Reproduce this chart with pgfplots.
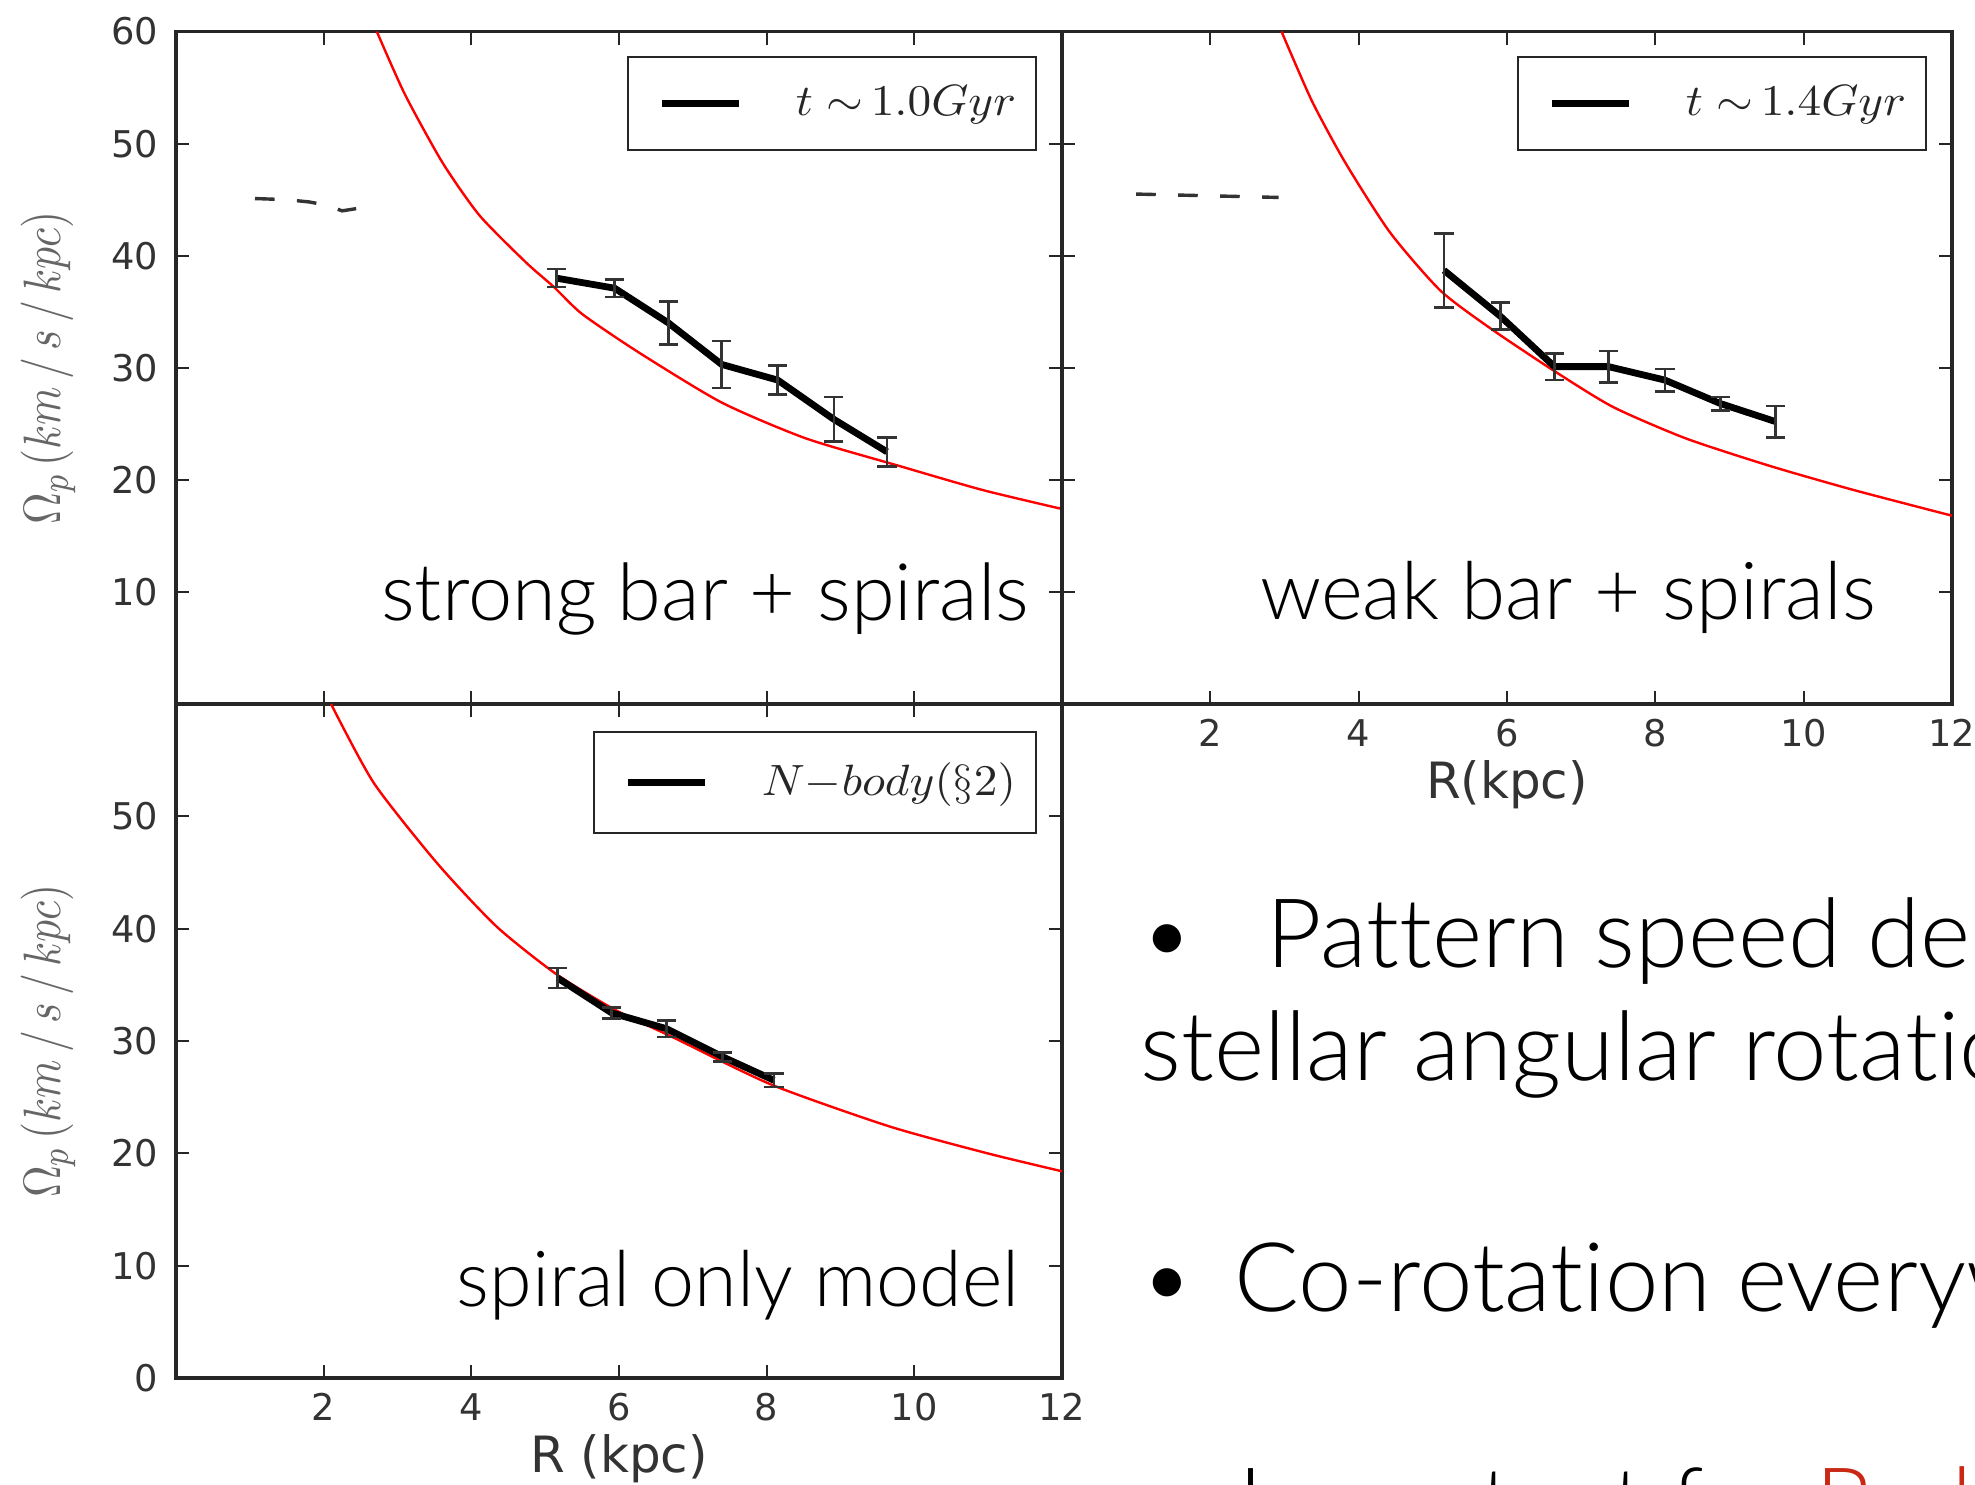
\documentclass[border=0pt]{standalone}
\usepackage{pgfplots}
\pgfplotsset{compat=1.18}
\usepackage{pgfplotstable}
\usepackage{graphicx}
\usepackage{fontspec}
\newfontfamily\tickfont{DejaVu Sans}
\IfFontExistsTF{Lato Light}{\newfontfamily\slidefont{Lato Light}[Ligatures=NoCommon]}{\newfontfamily\slidefont{Lato}[Ligatures=NoCommon]}
\definecolor{slidered}{RGB}{200,40,20}

% measured pattern speeds (x = R kpc, y = Omega_p, e = error)
\pgfplotstableread{
x y e
5.15 38.0 0.8
5.94 37.1 0.8
6.67 34.0 1.9
7.39 30.3 2.1
8.15 28.9 1.3
8.91 25.4 2.0
9.63 22.5 1.3
}\tldata
\pgfplotstableread{
x y e
5.15 38.7 3.3
5.91 34.6 1.2
6.64 30.1 1.2
7.37 30.1 1.4
8.13 28.9 1.0
8.88 26.8 0.6
9.62 25.2 1.4
}\trdata
\pgfplotstableread{
x y e
5.17 35.6 0.9
5.90 32.5 0.5
6.64 31.1 0.75
7.40 28.6 0.4
8.10 26.5 0.6
}\bldata
% angular rotation curves (red)
\pgfplotstableread{
x y
2.72 60.0
3.10 54.4
3.61 48.3
4.11 43.6
4.74 39.4
5.12 37.2
5.50 34.8
6.26 31.4
7.39 26.9
8.53 23.7
9.79 21.25
10.92 19.1
12.0 17.4
}\tlcurve
\pgfplotstableread{
x y
2.96 60.0
3.37 53.8
3.82 48.3
4.42 42.1
5.10 36.9
5.78 33.5
6.64 29.7
7.43 26.5
8.41 23.7
9.54 21.25
10.67 19.1
12.0 16.8
}\trcurve
\pgfplotstableread{
x y
2.10 60.0
2.68 52.96
3.54 45.8
4.34 40.2
5.14 36.0
5.94 32.8
6.74 30.3
8.07 26.1
9.66 22.4
10.99 20.0
12.0 18.4
}\blcurve

\pgfplotsset{
  panel/.style={
    scale only axis,
    xmin=0, xmax=12, ymin=0, ymax=60,
    axis line style={line width=0.8pt, black!85},
    tick style={line width=0.5pt, black!85},
    major tick length=3.3pt,
    tick align=inside,
    xtick pos=both, ytick pos=both,
    /pgf/number format/assume math mode=true,
    tick label style={font=\tickfont\fontsize{9.2}{10}\selectfont, text=black!80},
    xticklabel style={inner sep=0pt, anchor=north, yshift=-3.6pt},
    yticklabel style={inner sep=0pt, anchor=east, xshift=-4.3pt},
    xtick={2,4,...,12},
    xlabel style={font=\tickfont\fontsize{12.5}{14}\selectfont, text=black!80,
      at={([yshift=-20.3pt]axis description cs:0.5,0)}, anchor=center},
    ylabel style={text=black!60, at={([xshift=-32pt]axis description cs:0,0.5)}, anchor=center},
    legend style={at={(1,1)}, anchor=north east, xshift=-6.2pt, yshift=-6pt,
      draw=black!85, line width=0.6pt, fill=white,
      inner xsep=0pt, inner ysep=7.2pt, column sep=0pt, row sep=0pt,
      nodes={inner sep=0pt, text=black!85}},
    legend image code/.code={\path (-7.7pt,0pt); \draw[black, line width=1.8pt] (0pt,0pt) -- (19.1pt,0pt);},
  },
  curve/.style={red, line width=0.6pt, smooth, tension=0.4, forget plot},
  dashedbar/.style={black!80, line width=0.85pt, dash pattern=on 4.9pt off 5.6pt, forget plot},
  meas/.style={black, line width=1.7pt, mark=none,
    error bars/.cd, y dir=both, y explicit,
    error bar style={line width=0.65pt, black!80},
    error mark options={rotate=90, mark size=2.4pt, line width=0.65pt, black!80}},
}
\newcommand{\ylab}{\scalebox{1}[1.2]{\fontsize{11}{13}\selectfont$\Omega_p\,(km\,/\,s\,/\,kpc)$}}
\newcommand{\legtxt}[1]{\hspace*{13.4pt}\scalebox{1.08}[1]{\fontsize{10.6}{12}\selectfont$#1$}\hspace*{5pt}}

\begin{document}
\begin{tikzpicture}
\useasboundingbox (0,0) rectangle (493.75pt,371.25pt);
\clip (0,0) rectangle (493.75pt,371.25pt);

% top left: strong bar + spirals
\begin{axis}[panel, at={(44pt,195.25pt)}, anchor=south west,
  width=221.5pt, height=168.1pt,
  xticklabels={}, ytick={10,20,...,60}, ylabel={\ylab}]
  \addplot[curve] table[x=x,y=y] {\tlcurve};
  \addplot[dashedbar] coordinates {(1.07,45.1) (1.5,45.0) (1.8,44.8) (2.05,44.5) (2.25,44.0) (2.44,44.2)};
  \addplot[meas] table[x=x,y=y,y error=e] {\tldata};
  \addlegendentry{\legtxt{t\;{\sim}\,1.0Gyr}}
\end{axis}

% top right: weak bar + spirals
\begin{axis}[panel, at={(265.5pt,195.25pt)}, anchor=south west,
  width=222.5pt, height=168.1pt,
  ytick={10,20,...,60}, yticklabels={}, xlabel={R(kpc)}]
  \addplot[curve] table[x=x,y=y] {\trcurve};
  \addplot[dashedbar] coordinates {(1.0,45.5) (2.92,45.2)};
  \addplot[meas] table[x=x,y=y,y error=e] {\trdata};
  \addlegendentry{\legtxt{t\;{\sim}\,1.4Gyr}}
\end{axis}

% bottom left: spiral only model
\begin{axis}[panel, at={(44pt,26.75pt)}, anchor=south west,
  width=221.5pt, height=168.5pt,
  ytick={0,10,...,50}, xlabel={R (kpc)}, ylabel={\ylab},
  legend style={yshift=-0.65pt, inner ysep=7.8pt}]
  \addplot[curve] table[x=x,y=y] {\blcurve};
  \addplot[meas] table[x=x,y=y,y error=e] {\bldata};
  \addlegendentry{\legtxt{N{-}body(\S 2)}}
\end{axis}

% panel annotations
\node[anchor=base west, inner sep=0pt] at (95.1pt,216.05pt) {\resizebox{162pt}{!}{\slidefont strong bar + spirals}};
\node[anchor=base west, inner sep=0pt] at (314.85pt,216.3pt) {\resizebox{153.9pt}{!}{\slidefont weak bar + spirals}};
\node[anchor=base west, inner sep=0pt] at (114pt,44.5pt) {\resizebox{140.65pt}{!}{\slidefont spiral only model}};

% slide text
\begin{scope}[every node/.style={anchor=base west, inner sep=0pt, font=\slidefont\fontsize{24}{28}\selectfont}]
\node at (284.6pt,129.35pt) {\textbullet};
\node at (316.4pt,129.35pt) {Pattern speed decreases};
\node at (285pt,101.05pt) {stellar angular rotation};
\node at (284.6pt,43.3pt) {\textbullet};
\node at (308.5pt,43.3pt) {Co-rotation everywhere};
\node at (309.5pt,-13pt) {Important for \textcolor{slidered}{Radial migration}};
\end{scope}
\end{tikzpicture}
\end{document}
